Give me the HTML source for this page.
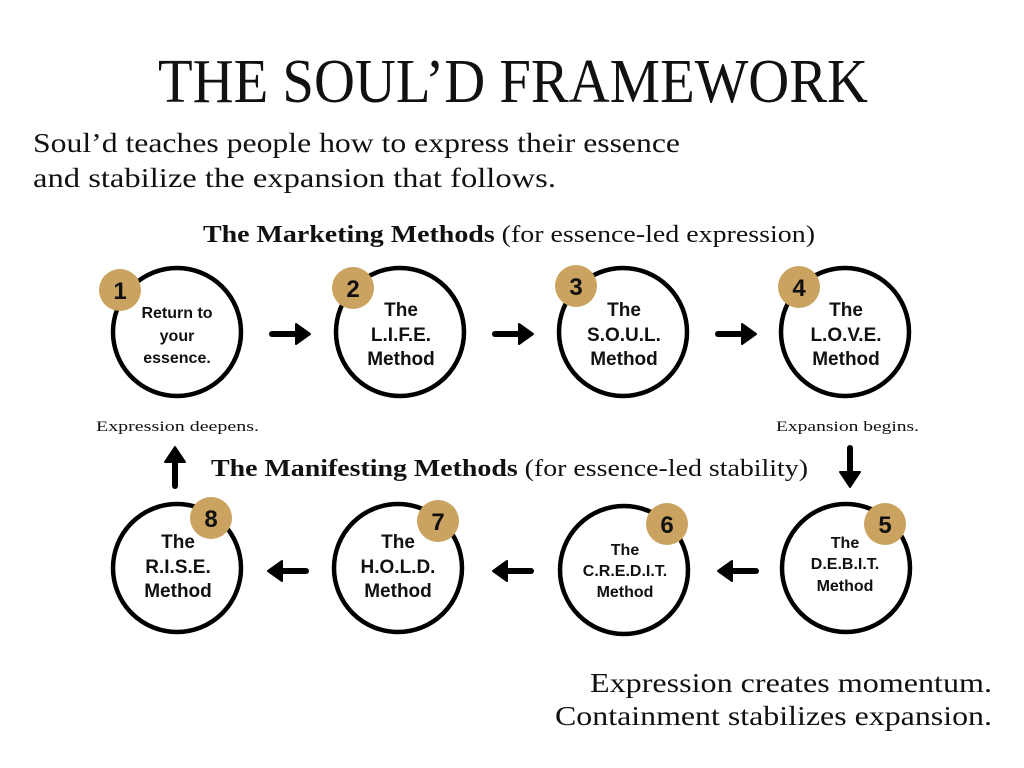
<!DOCTYPE html>
<html><head><meta charset="utf-8"><style>
html,body{margin:0;padding:0;background:#fff;}
svg{display:block}
.s{font-family:"Liberation Serif",serif;fill:#111}
.b{font-family:"Liberation Sans",sans-serif;font-weight:bold;fill:#111;text-anchor:middle}
</style></head><body>
<svg width="1024" height="768" viewBox="0 0 1024 768">
<rect width="1024" height="768" fill="#fff"/>
<text class="s" x="158" y="102" font-size="62" textLength="710" lengthAdjust="spacingAndGlyphs">THE SOUL’D FRAMEWORK</text>
<text class="s" x="33" y="152" font-size="27" textLength="647" lengthAdjust="spacingAndGlyphs">Soul’d teaches people how to express their essence</text>
<text class="s" x="33" y="187" font-size="27" textLength="523" lengthAdjust="spacingAndGlyphs">and stabilize the expansion that follows.</text>
<text class="s" x="203" y="242" font-size="24" textLength="612" lengthAdjust="spacingAndGlyphs"><tspan font-weight="bold">The Marketing Methods</tspan> (for essence-led expression)</text>
<text class="s" x="211" y="476" font-size="24" textLength="597" lengthAdjust="spacingAndGlyphs"><tspan font-weight="bold">The Manifesting Methods</tspan> (for essence-led stability)</text>
<text class="s" x="96" y="431" font-size="15" textLength="163" lengthAdjust="spacingAndGlyphs">Expression deepens.</text>
<text class="s" x="776" y="431" font-size="15" textLength="143" lengthAdjust="spacingAndGlyphs">Expansion begins.</text>
<text class="s" x="590" y="692" font-size="27" textLength="402" lengthAdjust="spacingAndGlyphs">Expression creates momentum.</text>
<text class="s" x="555" y="725" font-size="27" textLength="437" lengthAdjust="spacingAndGlyphs">Containment stabilizes expansion.</text>
<g fill="#fff" stroke="#000" stroke-width="4.5">
<circle cx="177" cy="332" r="64"/><circle cx="400" cy="332" r="64"/><circle cx="623" cy="332" r="64"/><circle cx="845" cy="332" r="64"/>
<circle cx="177" cy="568" r="64"/><circle cx="398" cy="568" r="64"/><circle cx="624" cy="570" r="64"/><circle cx="846" cy="568" r="64"/>
</g>
<g fill="#c9a35f">
<circle cx="120" cy="290" r="21"/><circle cx="353" cy="288" r="21"/><circle cx="576" cy="286" r="21"/><circle cx="799" cy="287" r="21"/>
<circle cx="211" cy="518" r="21"/><circle cx="438" cy="521" r="21"/><circle cx="667" cy="524" r="21"/><circle cx="885" cy="524" r="21"/>
</g>
<g class="b" font-size="24">
<text x="120" y="299" class="b">1</text><text x="353" y="297" class="b">2</text><text x="576" y="295" class="b">3</text><text x="799" y="296" class="b">4</text>
<text x="211" y="527" class="b">8</text><text x="438" y="530" class="b">7</text><text x="667" y="533" class="b">6</text><text x="885" y="533" class="b">5</text>
</g>
<g class="b" font-size="16">
<text x="177" y="318" class="b">Return to</text><text x="177" y="341" class="b">your</text><text x="177" y="363" class="b">essence.</text>
</g>
<g class="b" font-size="19">
<text x="401" y="316" class="b">The</text><text x="401" y="341" class="b">L.I.F.E.</text><text x="401" y="365" class="b">Method</text>
<text x="624" y="316" class="b">The</text><text x="624" y="341" class="b">S.O.U.L.</text><text x="624" y="365" class="b">Method</text>
<text x="846" y="316" class="b">The</text><text x="846" y="341" class="b">L.O.V.E.</text><text x="846" y="365" class="b">Method</text>
<text x="178" y="548" class="b">The</text><text x="178" y="573" class="b">R.I.S.E.</text><text x="178" y="597" class="b">Method</text>
<text x="398" y="548" class="b">The</text><text x="398" y="573" class="b">H.O.L.D.</text><text x="398" y="597" class="b">Method</text>
</g>
<g class="b" font-size="16">
<text x="625" y="555" class="b">The</text><text x="625" y="576" class="b">C.R.E.D.I.T.</text><text x="625" y="597" class="b">Method</text>
<text x="845" y="548" class="b">The</text><text x="845" y="569" class="b">D.E.B.I.T.</text><text x="845" y="591" class="b">Method</text>
</g>
<g stroke="#000" stroke-width="6" stroke-linecap="round" fill="none">
<line x1="272" y1="334" x2="298" y2="334"/><line x1="495" y1="334" x2="521" y2="334"/><line x1="718" y1="334" x2="744" y2="334"/>
<line x1="280" y1="571" x2="306" y2="571"/><line x1="505" y1="571" x2="531" y2="571"/><line x1="730" y1="571" x2="756" y2="571"/>
<line x1="850" y1="448" x2="850" y2="474"/><line x1="175" y1="460" x2="175" y2="486"/>
</g>
<g fill="#000" stroke="#000" stroke-width="2" stroke-linejoin="round">
<polygon points="296,324 310,334 296,344"/><polygon points="519,324 533,334 519,344"/><polygon points="742,324 756,334 742,344"/>
<polygon points="282,561 268,571 282,581"/><polygon points="507,561 493,571 507,581"/><polygon points="732,561 718,571 732,581"/>
<polygon points="840,472 850,487 860,472"/><polygon points="165,462 175,447 185,462"/>
</g>
</svg>
</body></html>
